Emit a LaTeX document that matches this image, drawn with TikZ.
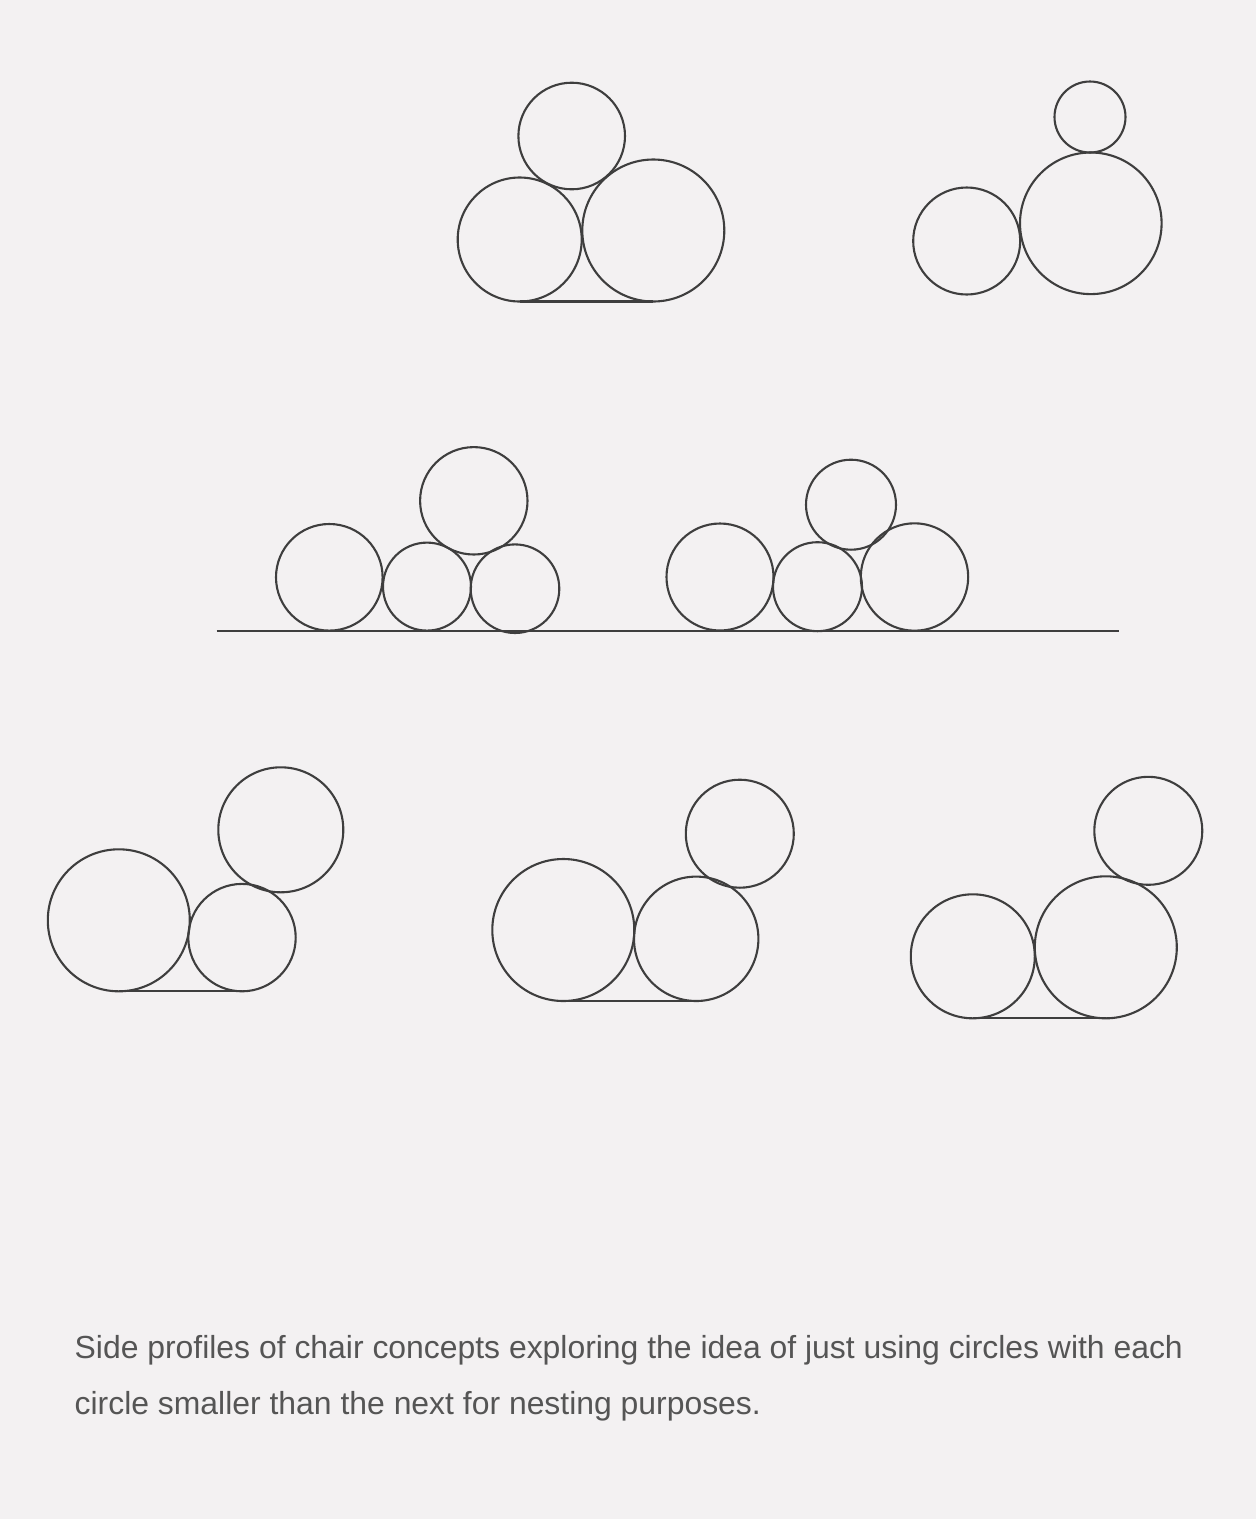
\documentclass[tikz,border=0pt]{standalone}
\usepackage{fontspec}
\setmainfont{Liberation Sans}
\usetikzlibrary{positioning}
\definecolor{paper}{RGB}{243,241,242}
\definecolor{inkgray}{RGB}{62,62,62}
\definecolor{txtgray}{RGB}{85,85,85}

\begin{document}
\begin{tikzpicture}[
  x=1pt, y=-1pt,
  ring/.style={draw=inkgray, circle, line width=2.1pt, inner sep=0pt,
               outer sep=0pt, minimum size=#1},
  floor/.style={draw=inkgray, line width=2.1pt},
  caption/.style={anchor=base west, text=txtgray, inner sep=0pt,
                  font=\fontsize{31.9}{57}\selectfont}
]
  % page
  \fill[paper] (0,0) rectangle (1256,1519);

  % Row 1, chair A
  \node[ring=106.6pt] (aTop)   at (571.7,136)   {};
  \node[ring=124pt]   (aBack)  at (519.7,239.5) {};
  \node[ring=142pt]   (aSeat)  at (653.3,230.5) {};
  \draw[floor] (aBack.south) -- (aSeat.south);

  % Row 1, chair B
  \node[ring=71pt]    (bTop)   at (1090,117)    {};
  \node[ring=141.6pt] (bSeat)  at (1090.8,223.3) {};
  \node[ring=107pt]   (bBack)  at (966.7,241)   {};

  % Row 2, on one floor line
  \coordinate (floorL) at (216.7,630.7);
  \coordinate (floorR) at (1119.3,630.7);
  \draw[floor] (floorL) -- (floorR);

  \node[ring=106.6pt] (cBack)  at (329.3,577.3) {};
  \node[ring=88pt]    (cMid)   at (427,586.6)   {};
  \node[ring=88.6pt]  (cFront) at (515,588.7)   {};
  \node[ring=107.4pt] (cTop)   at (473.8,500.8) {};

  \node[ring=107pt]   (dBack)  at (720,577)     {};
  \node[ring=89pt]    (dMid)   at (817.5,586.7) {};
  \node[ring=107.4pt] (dFront) at (914.5,577)   {};
  \node[ring=90pt]    (dTop)   at (851,504.7)   {};

  % Row 3, chair E
  \node[ring=142pt]   (eBig)   at (118.8,920.3) {};
  \node[ring=107.4pt] (eMid)   at (242,937.6)   {};
  \node[ring=125pt]   (eTop)   at (280.8,829.8) {};
  \draw[floor] (eBig.south) -- (eMid.south);

  % Row 3, chair F
  \node[ring=142pt]   (fBig)   at (563.3,930)   {};
  \node[ring=124.4pt] (fMid)   at (696.2,938.8) {};
  \node[ring=108pt]   (fTop)   at (739.8,833.7) {};
  \draw[floor] (fBig.south) -- (fMid.south);

  % Row 3, chair G
  \node[ring=124pt]   (gBack)  at (972.8,956.3) {};
  \node[ring=142pt]   (gBig)   at (1105.8,947.3) {};
  \node[ring=108pt]   (gTop)   at (1148.3,830.8) {};
  \draw[floor] (gBack.south) -- (gBig.south);

  % Caption
  \node[caption] (capOne) at (74.5,1358)
    {Side profiles of chair concepts exploring the idea of just using circles with each};
  \node[caption] (capTwo) at (74.5,1414.5)
    {circle smaller than the next for nesting purposes.};
\end{tikzpicture}
\end{document}
